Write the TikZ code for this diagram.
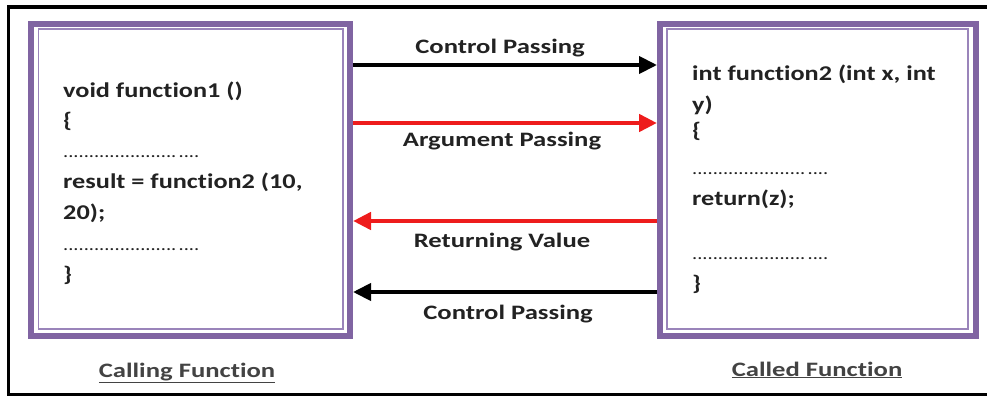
\documentclass[tikz,border=0pt]{standalone}
\usepackage{fontspec}
\setmainfont{Carlito}[Ligatures={NoCommon}]
\usetikzlibrary{arrows.meta}
\definecolor{frame}{HTML}{8064A2}
\definecolor{thinframe}{HTML}{9A84BA}
\definecolor{txt}{HTML}{222222}
\definecolor{redarrow}{HTML}{EE1C1C}
\newcommand{\sx}[1]{\scalebox{1.25}[1]{#1}}
\newcommand{\sxl}[1]{\scalebox{1.3}[1]{#1}}
\tikzset{
  fnbox/.style={draw=frame, line width=6pt, fill=white, rectangle, inner sep=0pt},
  innerline/.style={draw=thinframe, line width=1.6pt},
  code/.style={anchor=base west, inner sep=0pt, font=\fontsize{21}{24}\selectfont\bfseries, text=txt},
  dots/.style={anchor=base west, inner sep=0pt, font=\fontsize{17}{20}\selectfont, text=txt},
  lbl/.style={inner sep=0pt, font=\fontsize{20.5}{24}\selectfont\bfseries, text=txt},
  ttl/.style={inner sep=0pt, font=\fontsize{20.5}{24}\selectfont\bfseries, text=txt!85!white},
  blk/.style={draw=black, line width=4pt, -{Triangle[length=18pt,width=17pt]}},
  redarr/.style={draw=redarrow, line width=4.5pt, -{Triangle[length=18pt,width=17pt]}}
}
\newcommand{\dotrow}{\scalebox{1.2}[1]{......................\hspace{2pt}....}}
\begin{document}
\begin{tikzpicture}[x=1pt,y=-1pt]
\useasboundingbox (0,0) rectangle (987,399);
\begin{scope}
\clip (0,0) rectangle (987,399);
\draw[line width=3.5pt] (8.5,7) rectangle (995,394.5);
\end{scope}
% boxes
\node[fnbox, minimum width=319pt, minimum height=312pt] (caller) at (190.5,179.5) {};
\node[fnbox, minimum width=316pt, minimum height=312.5pt] (callee) at (818,179.75) {};
\draw[innerline] (38.5,29) rectangle (343,329);
\draw[innerline] (667,29) rectangle (968,329);
% left code
\node[code] (l1) at (63,97) {\sx{void function1 ()}};
\node[code] (l2) at (63,127) {\sx{\{}};
\node[dots] (l3) at (63,157) {\dotrow};
\node[code] (l4) at (63,188) {\sx{result = function2 (10,}};
\node[code] (l5) at (63,219) {\sx{20);}};
\node[dots] (l6) at (63,250) {\dotrow};
\node[code] (l7) at (63,281) {\sx{\}}};
% right code
\node[code] (r1) at (692,80) {\sx{int function2 (int x, int}};
\node[code] (r2) at (692,111) {\sx{y)}};
\node[code] (r3) at (692,137) {\sx{\{}};
\node[dots] (r4) at (692,174) {\dotrow};
\node[code] (r5) at (692,205) {\sx{return(z);}};
\node[dots] (r6) at (692,259) {\dotrow};
\node[code] (r7) at (692,290) {\sx{\}}};
% arrows
\coordinate (y1) at (0,65);
\coordinate (y2) at (0,123);
\coordinate (y3) at (0,221);
\coordinate (y4) at (0,292);
\draw[blk] (caller.east |- y1) -- (callee.west |- y1);
\draw[redarr] (caller.east |- y2) -- (callee.west |- y2);
\draw[redarr] (callee.west |- y3) -- (caller.east |- y3);
\draw[blk] (callee.west |- y4) -- (caller.east |- y4);
\node[lbl] (a1) at (500,48) {\sxl{Control Passing}};
\node[lbl] (a2) at (502,141) {\sxl{Argument Passing}};
\node[lbl] (a3) at (502,242) {\sxl{Returning Value}};
\node[lbl] (a4) at (508,314) {\sxl{Control Passing}};
% titles
\node[ttl] (t1) at (187,373) {\sxl{\underline{Calling Function}}};
\node[ttl] (t2) at (817,370) {\sxl{\underline{Called Function}}};
\end{tikzpicture}
\end{document}
